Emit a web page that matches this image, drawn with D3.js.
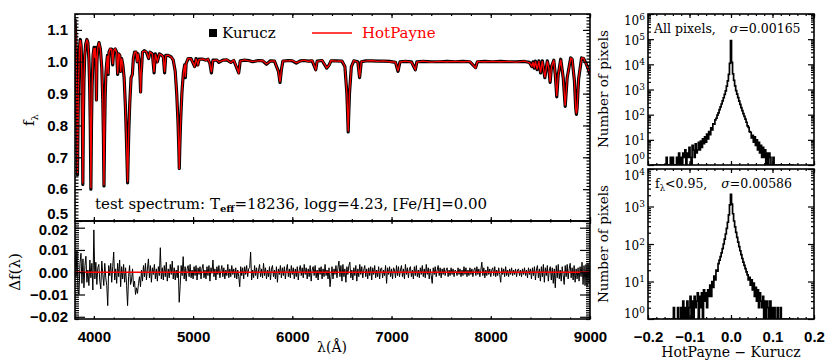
<!DOCTYPE html>
<html lang="en">
<head>
<meta charset="UTF-8">
<title>HotPayne vs Kurucz</title>
<script src="https://d3js.org/d3.v7.min.js"></script>
<style>
  body { margin: 0; background: #fff; }
  .tick text { font-family: "Liberation Sans", Arial, sans-serif; font-weight: bold; font-size: 15px; fill: #000; }
  .lab { font-family: "DejaVu Serif", serif; fill: #000; }
</style>
</head>
<body>
<div id="viz"></div>
<script>
// ---- spectrum (normalised flux) ----
const specWave = [
  3810,3818,3825,3830,3835,3840,3846,3854,3864,3872,
  3879,3884,3889,3894,3900,3908,3918,3930,3940,3950,
  3958,3964,3970,3976,3983,3992,4002,4009,4015,4021,
  4026,4031,4040,4052,4066,4080,4090,4096,4102,4108,
  4114,4121,4128,4137,4144,4152,4165,4180,4190,4200,
  4215,4230,4240,4250,4262,4270,4280,4292,4305,4318,
  4328,4335,4340,4345,4352,4362,4375,4388,4398,4410,
  4425,4437,4445,4458,4466,4471,4476,4481,4490,4510,
  4530,4552,4565,4590,4607,4620,4640,4660,4685,4700,
  4713,4725,4750,4780,4800,4820,4835,4848,4856,4861,
  4866,4874,4887,4902,4915,4922,4930,4950,4980,5016,
  5030,5048,5060,5100,5130,5150,5169,5185,5200,5240,
  5260,5300,5340,5380,5410,5460,5475,5520,5560,5600,
  5660,5700,5740,5780,5820,5860,5876,5890,5905,5960,
  6000,6040,6080,6120,6160,6200,6236,6250,6300,6347,
  6371,6390,6440,6500,6530,6550,6558,6563,6568,6576,
  6595,6620,6660,6678,6695,6740,6800,6860,6920,6980,
  7040,7065,7085,7140,7200,7240,7255,7320,7400,7480,
  7560,7640,7720,7790,7847,7865,7940,8020,8100,8180,
  8260,8340,8390,8413,8425,8438,8450,8467,8485,8502,
  8520,8545,8570,8585,8598,8612,8635,8650,8665,8680,
  8705,8730,8750,8770,8805,8820,8843,8856,8863,8870,
  8885,8915,8935,8960,8985,9000
];
const kuruczFlux = [
  1.135,1.080,0.960,0.820,0.645,0.800,0.940,1.040,1.070,1.050,
  0.960,0.830,0.615,0.810,0.940,1.020,1.055,1.070,1.060,1.010,
  0.920,0.800,0.600,0.800,0.930,1.020,1.045,1.010,1.045,1.000,
  0.880,1.000,1.045,1.060,1.040,0.980,0.880,0.770,0.610,0.770,
  0.890,0.960,0.990,1.020,0.960,1.030,1.040,1.040,0.990,1.035,
  1.040,1.030,0.960,1.025,1.020,0.970,1.010,0.990,0.950,0.860,
  0.760,0.680,0.620,0.690,0.780,0.870,0.950,0.960,1.010,1.030,
  1.030,1.000,1.025,1.000,0.950,0.905,0.960,0.980,1.030,1.035,
  1.030,1.010,1.030,1.025,0.965,1.025,1.000,1.025,1.020,1.015,
  0.965,1.020,1.020,1.015,1.005,0.970,0.900,0.810,0.730,0.665,
  0.730,0.810,0.900,0.965,0.990,0.950,0.995,1.010,1.010,0.985,
  1.010,0.990,1.008,1.008,1.005,1.008,0.995,0.965,1.005,1.005,
  0.998,1.005,1.006,0.998,1.004,0.965,1.003,1.005,1.004,1.000,
  1.004,1.003,0.992,1.003,1.002,0.970,0.935,0.975,1.002,1.004,
  1.003,0.996,1.003,1.004,1.002,1.003,0.975,1.002,1.004,0.980,
  0.990,1.003,1.003,1.002,0.985,0.900,0.830,0.780,0.830,0.900,
  0.985,1.003,1.000,0.950,1.000,1.003,1.003,1.002,1.002,1.001,
  0.998,0.970,1.000,1.001,1.000,0.975,1.000,1.001,1.000,1.000,
  1.001,1.000,1.001,1.000,0.982,1.000,1.001,1.000,1.001,1.000,
  1.000,1.001,0.998,0.985,1.000,0.980,1.002,0.975,1.003,0.965,
  1.003,0.950,1.003,0.980,0.935,0.985,1.005,0.960,0.890,0.960,
  1.008,0.950,0.860,0.950,1.012,1.008,0.940,0.855,0.835,0.855,
  0.945,1.012,1.010,0.995,0.975,0.960
];
const hotPayneFlux = [
  1.133,1.078,0.962,0.823,0.648,0.797,0.938,1.042,1.068,1.051,
  0.962,0.828,0.618,0.808,0.942,1.018,1.056,1.068,1.061,1.008,
  0.922,0.797,0.603,0.802,0.928,1.022,1.043,1.012,1.044,1.002,
  0.878,1.001,1.044,1.061,1.039,0.982,0.878,0.772,0.612,0.768,
  0.892,0.958,0.991,1.019,0.962,1.029,1.041,1.039,0.992,1.034,
  1.041,1.029,0.962,1.024,1.021,0.968,1.011,0.989,0.952,0.858,
  0.762,0.678,0.622,0.688,0.782,0.868,0.951,0.958,1.011,1.029,
  1.031,0.999,1.026,0.999,0.952,0.903,0.961,0.979,1.031,1.034,
  1.031,1.009,1.031,1.024,0.967,1.024,1.001,1.024,1.021,1.014,
  0.967,1.019,1.021,1.014,1.006,0.969,0.902,0.808,0.732,0.663,
  0.732,0.808,0.902,0.964,0.991,0.952,0.994,1.011,1.009,0.986,
  1.009,0.991,1.007,1.009,1.004,1.009,0.994,0.967,1.004,1.006,
  0.999,1.004,1.007,0.997,1.005,0.966,1.002,1.006,1.003,1.001,
  1.003,1.004,0.993,1.002,1.003,0.969,0.937,0.974,1.003,1.003,
  1.004,0.997,1.002,1.005,1.001,1.004,0.976,1.001,1.005,0.981,
  0.989,1.004,1.002,1.003,0.986,0.899,0.832,0.781,0.829,0.901,
  0.984,1.004,0.999,0.951,1.001,1.002,1.004,1.001,1.003,1.000,
  0.999,0.971,0.999,1.002,0.999,0.976,0.999,1.002,0.999,1.001,
  1.000,1.001,1.000,1.001,0.981,1.001,1.000,1.001,1.000,1.001,
  0.999,1.002,0.997,0.986,0.999,0.981,1.001,0.976,1.002,0.966,
  1.002,0.951,1.002,0.981,0.937,0.984,1.006,0.959,0.892,0.959,
  1.007,0.951,0.862,0.949,1.011,1.009,0.941,0.853,0.837,0.853,
  0.946,1.011,1.011,0.994,0.976,0.961
];

// ---- residuals HotPayne - Kurucz, one value every 10 A from 3810 A to 9000 A ----
const residStart = 3810, residStep = 10;
const residual = [
  0.0095,-0.0020,0.0100,-0.0080,-0.0100,0.0040,0.0085,-0.0050,0.0060,-0.0070,
  0.0030,0.0072,-0.0045,0.0010,-0.0060,0.0055,-0.0025,0.0040,-0.0080,0.0190,
  -0.0030,0.0045,-0.0055,0.0020,0.0035,-0.0040,-0.0075,0.0050,-0.0010,-0.0060,
  0.0040,-0.0025,-0.0060,-0.0150,0.0030,-0.0015,0.0040,-0.0045,0.0025,0.0090,
  -0.0035,0.0015,-0.0050,0.0040,-0.0020,0.0055,-0.0065,0.0025,-0.0030,0.0035,
  -0.0045,0.0020,-0.0060,-0.0150,-0.0020,0.0030,-0.0055,-0.0035,0.0015,-0.0065,
  -0.0040,-0.0100,-0.0070,-0.0095,-0.0050,-0.0020,-0.0065,0.0010,-0.0040,0.0030,
  -0.0020,0.0040,-0.0035,0.0015,0.0060,-0.0025,0.0030,-0.0045,0.0020,-0.0010,
  0.0035,-0.0030,0.0015,-0.0040,0.0025,-0.0015,0.0110,-0.0030,0.0020,-0.0035,
  0.0030,-0.0020,0.0045,-0.0040,0.0015,-0.0025,0.0035,-0.0010,0.0050,-0.0030,
  0.0020,-0.0035,0.0010,-0.0025,0.0030,-0.0135,-0.0060,0.0030,-0.0015,0.0070,
  -0.0030,0.0025,-0.0040,0.0015,0.0030,-0.0020,0.0035,-0.0025,0.0010,-0.0030,
  0.0025,-0.0015,0.0030,-0.0035,0.0020,-0.0010,0.0025,-0.0030,0.0015,0.0035,
  -0.0025,0.0010,-0.0030,0.0025,-0.0015,0.0030,-0.0040,0.0020,-0.0005,0.0055,
  -0.0020,0.0015,-0.0035,0.0025,-0.0010,0.0030,-0.0025,0.0005,0.0030,-0.0020,
  0.0020,-0.0030,0.0010,-0.0015,0.0035,-0.0025,0.0015,-0.0020,0.0030,-0.0010,
  0.0015,-0.0025,0.0020,-0.0030,0.0010,-0.0020,-0.0065,0.0025,-0.0015,0.0020,
  -0.0030,0.0025,-0.0010,0.0030,-0.0020,0.0015,0.0020,0.0090,-0.0035,0.0010,
  -0.0025,0.0030,-0.0015,0.0020,-0.0030,0.0010,0.0035,-0.0020,0.0015,-0.0025,
  0.0040,-0.0015,0.0020,-0.0030,0.0010,-0.0020,0.0025,-0.0035,0.0015,0.0030,
  -0.0020,0.0010,-0.0030,0.0025,-0.0045,0.0015,-0.0010,0.0030,-0.0025,0.0020,
  -0.0015,0.0025,-0.0030,0.0010,0.0035,-0.0020,0.0015,-0.0025,0.0030,-0.0010,
  0.0020,-0.0030,0.0015,-0.0020,0.0025,-0.0035,0.0010,0.0030,-0.0015,0.0020,
  -0.0025,0.0035,-0.0010,0.0020,-0.0030,0.0015,-0.0020,0.0030,-0.0040,0.0010,
  0.0025,-0.0015,0.0030,-0.0025,0.0010,-0.0035,0.0020,-0.0010,0.0025,-0.0030,
  0.0015,-0.0020,0.0035,-0.0015,0.0010,-0.0030,0.0020,-0.0065,-0.0020,0.0025,
  -0.0030,0.0015,-0.0010,0.0030,-0.0025,0.0020,0.0050,-0.0020,0.0030,-0.0040,
  0.0035,-0.0020,0.0015,-0.0045,0.0025,-0.0010,0.0030,0.0045,-0.0025,0.0010,
  -0.0035,0.0020,-0.0015,0.0030,-0.0040,0.0015,-0.0020,0.0035,-0.0010,0.0025,
  -0.0025,0.0010,0.0030,-0.0020,0.0015,-0.0030,0.0020,-0.0015,0.0025,-0.0035,
  0.0020,-0.0010,0.0030,-0.0025,0.0010,-0.0020,0.0025,-0.0030,0.0015,0.0020,
  -0.0025,0.0010,-0.0015,0.0030,-0.0050,0.0020,-0.0010,0.0025,-0.0020,0.0015,
  -0.0030,0.0020,0.0010,-0.0025,0.0030,-0.0015,0.0025,-0.0020,0.0010,0.0030,
  -0.0020,0.0015,-0.0030,0.0035,-0.0010,0.0020,-0.0025,0.0015,0.0025,-0.0020,
  0.0010,-0.0030,0.0025,-0.0015,0.0030,-0.0020,0.0010,-0.0025,0.0020,-0.0010,
  0.0030,-0.0020,0.0015,-0.0025,0.0035,-0.0010,0.0020,-0.0030,0.0015,-0.0015,
  -0.0050,0.0020,-0.0010,0.0025,-0.0020,0.0010,0.0030,-0.0015,0.0020,-0.0025,
  0.0015,-0.0010,0.0020,-0.0015,0.0010,0.0020,-0.0020,0.0010,-0.0015,0.0020,
  -0.0010,0.0015,-0.0020,0.0010,0.0005,-0.0015,0.0020,-0.0010,0.0015,-0.0020,
  0.0010,-0.0015,0.0025,-0.0010,0.0020,-0.0020,0.0010,-0.0015,0.0020,-0.0010,
  0.0015,-0.0020,0.0010,0.0020,-0.0015,0.0025,-0.0010,0.0015,-0.0020,0.0010,
  0.0045,-0.0015,0.0020,-0.0025,0.0010,-0.0015,0.0025,-0.0010,0.0015,-0.0020,
  0.0010,0.0020,-0.0015,0.0025,-0.0020,0.0010,-0.0015,0.0020,-0.0010,-0.0045,
  0.0020,-0.0010,0.0015,-0.0020,0.0025,-0.0015,0.0010,-0.0020,0.0015,-0.0010,
  0.0020,-0.0015,0.0010,-0.0010,0.0015,-0.0020,0.0010,0.0015,-0.0015,0.0010,
  -0.0020,0.0015,-0.0010,0.0020,-0.0015,0.0010,-0.0025,0.0020,-0.0010,0.0015,
  -0.0030,0.0020,-0.0015,0.0025,-0.0035,0.0010,0.0030,-0.0025,0.0015,-0.0040,
  0.0025,-0.0020,0.0035,-0.0045,0.0020,-0.0015,0.0030,-0.0040,0.0010,0.0025,
  -0.0035,0.0020,-0.0050,0.0015,-0.0070,0.0030,-0.0025,0.0035,-0.0030,0.0010,
  -0.0040,0.0025,-0.0015,-0.0055,0.0030,-0.0020,0.0035,-0.0030,0.0015,0.0040,
  -0.0025,0.0020,-0.0035,0.0030,-0.0045,0.0015,-0.0030,0.0020,-0.0040,0.0025,
  -0.0020,0.0045,-0.0055,0.0030,-0.0060,0.0035,-0.0065,0.0040,-0.0050,0.0030
];

// ---- histograms of the residuals, bins of 0.0025 centred from -0.2 ----
const binStart = -0.2, binWidth = 0.0025;
const countsAll = [
  0,0,0,0,1,0,1,0,1,0,
  0,1,0,1,1,0,1,0,2,1,
  0,1,2,0,2,1,1,0,2,1,
  3,1,2,0,3,2,4,1,3,2,
  5,2,1,6,4,2,7,3,4,8,
  4,9,5,11,7,13,8,17,11,21,
  16,30,25,43,42,62,72,96,118,160,
  205,265,350,470,640,880,1350,2200,4000,11000,
  88000,12000,4200,2300,1400,900,650,475,345,255,
  190,145,110,85,66,50,36,31,21,20,
  12,15,8,13,6,10,4,8,3,6,
  2,5,2,4,1,3,1,3,2,1,
  1,2,0,1,1,0,1,1,0,1,
  0,1,0,0,1,0,1,0,0,1,
  0,0,0,0,0,0,0,0,0,0,
  0,0,0,0,0,0,0,0,0,0,
  0
];
const countsLow = [
  0,0,0,0,0,1,0,1,0,1,
  0,0,0,0,0,0,1,0,1,0,
  1,0,0,1,0,2,0,1,0,2,
  1,0,2,0,3,1,2,0,3,1,
  2,4,1,3,0,4,2,3,5,1,
  4,2,5,1,6,3,5,2,6,4,
  8,4,10,7,14,11,20,19,30,37,
  46,58,75,100,135,185,260,380,600,1100,
  2100,1150,640,410,285,205,150,112,85,66,
  52,41,33,27,22,18,15,11,13,8,
  11,6,9,4,7,3,6,2,5,3,
  2,4,1,3,1,3,2,0,3,1,
  2,1,2,0,1,2,0,1,2,0,
  1,1,0,1,0,0,1,0,0,1,
  0,0,0,0,0,0,0,0,0,0,
  0,0,0,0,0,0,0,0,0,0,
  0
];

// ---- tick values ----
const fluxTicks = [0.5, 0.6, 0.7, 0.8, 0.9, 1.0, 1.1];
const residTicks = [-0.02, -0.01, 0, 0.01, 0.02];
const waveTicks = [4000, 5000, 6000, 7000, 8000, 9000];
const diffTicks = [-0.2, -0.1, 0, 0.1, 0.2];
const countTicksAll = [1, 10, 100, 1e3, 1e4, 1e5, 1e6];
const countTicksLow = [1, 10, 100, 1e3, 1e4];

// ---- layout ----
const width = 830, height = 363;
const svg = d3.select('#viz').append('svg')
  .attr('width', width).attr('height', height)
  .style('background', '#fff');

const specX = d3.scaleLinear().domain([3810, 9000]).range([75, 590]);
const specY = d3.scaleLinear().domain([0.5, 1.15]).range([221, 14]);
const resY = d3.scaleLinear().domain([-0.021, 0.023]).range([319, 221]);
const histX = d3.scaleLinear().domain([-0.2, 0.2]).range([648, 814]);
const histYAll = d3.scaleLog().domain([1, 1e6]).range([165, 14]);
const histYLow = d3.scaleLog().domain([1, 1e4]).range([319, 169]);

// clip rectangles for the data
function clip(id, xs, ys) {
  svg.append('clipPath').attr('id', id).append('rect')
    .attr('x', xs.range()[0]).attr('y', ys.range()[1])
    .attr('width', xs.range()[1] - xs.range()[0])
    .attr('height', ys.range()[0] - ys.range()[1]);
}
clip('cSpec', specX, specY);
clip('cRes', specX, resY);
clip('cAll', histX, histYAll);
clip('cLow', histX, histYLow);

// ---- spectrum ----
const specLine = flux => d3.line()
  .x((d, i) => specX(specWave[i]))
  .y(d => specY(d))(flux);

svg.append('path').attr('d', specLine(kuruczFlux))
  .attr('clip-path', 'url(#cSpec)')
  .attr('fill', 'none').attr('stroke', '#000').attr('stroke-width', 3.2)
  .attr('stroke-linejoin', 'round');
svg.append('path').attr('d', specLine(hotPayneFlux))
  .attr('clip-path', 'url(#cSpec)')
  .attr('fill', 'none').attr('stroke', '#f00').attr('stroke-width', 1.3);

// ---- residuals ----
svg.append('path')
  .attr('d', d3.line()
    .x((d, i) => specX(residStart + i * residStep))
    .y(d => resY(d))(residual))
  .attr('clip-path', 'url(#cRes)')
  .attr('fill', 'none').attr('stroke', '#000').attr('stroke-width', 1);
svg.append('line')
  .attr('x1', specX.range()[0]).attr('x2', specX.range()[1])
  .attr('y1', resY(0)).attr('y2', resY(0))
  .attr('stroke', '#f00').attr('stroke-width', 1.4);

// ---- histograms ----
function histPath(counts, ys, clipId) {
  svg.append('path')
    .attr('d', d3.line()
      .x((d, i) => histX(binStart + i * binWidth))
      .y(d => ys(Math.max(d, 0.3)))
      .curve(d3.curveStep)(counts))
    .attr('clip-path', `url(#${clipId})`)
    .attr('fill', 'none').attr('stroke', '#000').attr('stroke-width', 1.7);
}
histPath(countsAll, histYAll, 'cAll');
histPath(countsLow, histYLow, 'cLow');

// ---- axes: IDL style, ticks inside on all four sides ----
function addAxis(orient, scale, values, size, at, format, padding) {
  const vertical = orient === d3.axisLeft || orient === d3.axisRight;
  const g = svg.append('g')
    .attr('transform', vertical ? `translate(${at},0)` : `translate(0,${at})`)
    .call(orient(scale).tickValues(values).tickSize(-size)
      .tickPadding(padding || 3).tickFormat(format || (() => '')));
  g.select('.domain').remove();
  g.selectAll('line').attr('stroke', '#000').attr('stroke-width', 1.2);
  return g;
}
const inDomain = (s, arr) => arr.filter(v => v >= d3.min(s.domain()) - 1e-9 && v <= d3.max(s.domain()) + 1e-9);
const waveMinor = inDomain(specX, d3.range(3800, 9001, 200));
const fluxMinor = d3.range(50, 116).map(v => v / 100);
const resMinor = d3.range(-21, 24).map(v => v / 1000);
const diffMinor = d3.range(-10, 11).map(v => v / 50);
const logMinor = top => d3.range(0, Math.log10(top)).flatMap(k => d3.range(2, 10).map(m => m * Math.pow(10, k)));

// spectrum panel
addAxis(d3.axisLeft, specY, fluxMinor, 3.5, 75);
addAxis(d3.axisRight, specY, fluxMinor, 3.5, 590);
addAxis(d3.axisRight, specY, fluxTicks, 7, 590);
const fluxLab = addAxis(d3.axisLeft, specY, fluxTicks, 7, 75, d3.format('.1f'), 7);
fluxLab.selectAll('text').filter(d => d === 0.5).attr('y', -7);
addAxis(d3.axisTop, specX, waveMinor, 2, 14);
addAxis(d3.axisTop, specX, waveTicks, 4, 14);
addAxis(d3.axisBottom, specX, waveMinor, 2, 221);
addAxis(d3.axisBottom, specX, waveTicks, 4, 221);

// residual panel
addAxis(d3.axisLeft, resY, resMinor, 4, 75);
addAxis(d3.axisRight, resY, resMinor, 4, 590);
addAxis(d3.axisRight, resY, residTicks, 10, 590);
const resLab = addAxis(d3.axisLeft, resY, residTicks, 10, 75, d3.format('.2f'), 7);
resLab.selectAll('text').filter(d => d === 0.02).attr('y', 2);
addAxis(d3.axisTop, specX, waveMinor, 1.5, 221);
addAxis(d3.axisTop, specX, waveTicks, 3, 221);
addAxis(d3.axisBottom, specX, waveMinor, 1.5, 319);
addAxis(d3.axisBottom, specX, waveTicks, 3, 319, d3.format('d'), 12);

// histogram panels
function powerLabels(g, ys) {
  const [lo, hi] = ys.domain();
  g.selectAll('.tick text').each(function (d) {
    const t = d3.select(this).text('').attr('dy', null)
      .attr('y', d === hi ? 10 : d === lo ? -2 : 5)
      .style('font-family', '"DejaVu Serif", serif')
      .style('font-weight', 'normal').style('font-size', '12px');
    t.append('tspan').text('10');
    t.append('tspan').attr('dy', -5).style('font-size', '9px').text(Math.round(Math.log10(d)));
  });
}
[[histYAll, countTicksAll, 1e6, 14, 165], [histYLow, countTicksLow, 1e4, 169, 319]].forEach(([ys, tv, top, y0, y1]) => {
  addAxis(d3.axisLeft, ys, logMinor(top), 3, 648);
  addAxis(d3.axisRight, ys, logMinor(top), 3, 814);
  addAxis(d3.axisRight, ys, tv, 6, 814);
  powerLabels(addAxis(d3.axisLeft, ys, tv, 6, 648, d => d, 3), ys);
  addAxis(d3.axisTop, histX, diffMinor, 2, y0);
  addAxis(d3.axisTop, histX, diffTicks, 4, y0);
  addAxis(d3.axisBottom, histX, diffMinor, 2, y1);
  addAxis(d3.axisBottom, histX, diffTicks, 4, y1, y1 === 319 ? d3.format('.1f') : null, 12);
});

// frames
[[specX, specY], [specX, resY], [histX, histYAll], [histX, histYLow]].forEach(([xs, ys]) => {
  svg.append('rect')
    .attr('x', xs.range()[0]).attr('y', ys.range()[1])
    .attr('width', xs.range()[1] - xs.range()[0])
    .attr('height', ys.range()[0] - ys.range()[1])
    .attr('fill', 'none').attr('stroke', '#000').attr('stroke-width', 1.6);
});

// ---- text ----
function label(x, y, size, rot) {
  return svg.append('text').attr('class', 'lab')
    .attr('transform', `translate(${x},${y})` + (rot ? ` rotate(${rot})` : ''))
    .attr('font-size', size);
}
// legend
svg.append('rect').attr('x', 209).attr('y', 29).attr('width', 8).attr('height', 8).attr('fill', '#000');
label(222, 38, 15).text('Kurucz');
svg.append('line').attr('x1', 312).attr('x2', 352).attr('y1', 33).attr('y2', 33)
  .attr('stroke', '#f00').attr('stroke-width', 1.4);
label(362, 38, 15).style('fill', '#f00').text('HotPayne');

const ts = label(95, 209, 15);
ts.append('tspan').text('test spectrum: T');
ts.append('tspan').attr('dy', 3).attr('font-size', 10).attr('font-weight', 'bold').text('eff');
ts.append('tspan').attr('dy', -3).text('=18236, logg=4.23, [Fe/H]=0.00');

const fl = label(34, 120, 15, -90).attr('text-anchor', 'middle');
fl.append('tspan').text('f');
fl.append('tspan').attr('dy', 4).attr('font-size', 10).text('λ');

label(20, 272, 15, -90).attr('text-anchor', 'middle').text('Δf(λ)');
label(332, 352, 14).attr('text-anchor', 'middle').text('λ(Å)');

label(608, 89, 13.5, -90).attr('text-anchor', 'middle').text('Number of pixels');
label(608, 244, 13.5, -90).attr('text-anchor', 'middle').text('Number of pixels');
label(731, 357, 14).attr('text-anchor', 'middle').text('HotPayne − Kurucz');

const s1 = label(654, 33, 12.5);
s1.append('tspan').text('All pixels,');
s1.append('tspan').attr('dx', 14).attr('font-style', 'italic').text('σ');
s1.append('tspan').text('=0.00165');

const s2 = label(655, 188, 12.5);
s2.append('tspan').text('f');
s2.append('tspan').attr('dy', 3).attr('font-size', 8.5).text('λ');
s2.append('tspan').attr('dy', -3).text('<0.95,');
s2.append('tspan').attr('dx', 14).attr('font-style', 'italic').text('σ');
s2.append('tspan').text('=0.00586');
</script>
</body>
</html>
